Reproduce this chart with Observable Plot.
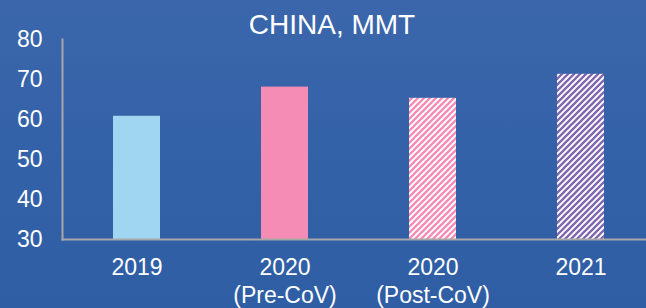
<!DOCTYPE html>
<html>
<head>
<meta charset="utf-8">
<script src="https://cdn.jsdelivr.net/npm/d3@7"></script>
<script src="https://cdn.jsdelivr.net/npm/@observablehq/plot@0.6"></script>
<style>
  html, body { margin: 0; padding: 0; }
  body {
    width: 646px; height: 308px; overflow: hidden; position: relative;
    background: linear-gradient(180deg, #3b66ab 0%, #3462a8 45%, #2f5ea5 100%);
    font-family: "Liberation Sans", Arial, sans-serif;
  }
  #title {
    position: absolute; left: 0; top: 11px; width: 646px; box-sizing: border-box;
    padding-left: 18px; text-align: center; color: #ffffff;
    font-size: 28px; line-height: 28px; font-family: "Liberation Sans", Arial, sans-serif;
  }
  #chart { position: absolute; left: 0; top: 0; }
</style>
</head>
<body>
<div id="chart"></div>
<div id="title">CHINA, MMT</div>
<script>
const categories = ["2019", "2020 (Pre-CoV)", "2020 (Post-CoV)", "2021"];
const values = [60.8, 68.1, 65.3, 71.3];
const tickLabels = ["2019", "2020\n(Pre-CoV)", "2020\n(Post-CoV)", "2021"];
const fills = ["#a0d6f2", "#f48cb5", "url(#stripePink)", "url(#stripePurple)"];
const yTicks = [30, 40, 50, 60, 70, 80];

const data = categories.map((c, i) => ({category: c, value: values[i]}));
const labelOf = new Map(categories.map((c, i) => [c, tickLabels[i]]));

const chart = Plot.plot({
  width: 646,
  height: 308,
  marginLeft: 62,
  marginRight: 0,
  marginTop: 39,
  marginBottom: 69,
  style: {background: "transparent", color: "#ffffff", fontFamily: "'Liberation Sans', Arial, sans-serif", overflow: "visible"},
  x: {type: "band", domain: categories, range: [62.5, 654.5], paddingInner: 0.682, paddingOuter: 0.341, axis: null, label: null},
  y: {domain: [30, 80], axis: null, label: null},
  color: {type: "ordinal", domain: categories, range: fills},
  marks: [
    Plot.barY(data, {x: "category", y1: 30, y2: "value", fill: "category"}),
    Plot.frame({anchor: "left", stroke: "#a8a8a8", strokeWidth: 2}),
    Plot.frame({anchor: "bottom", stroke: "#a8a8a8", strokeWidth: 2}),
    Plot.axisY(yTicks, {tickSize: 0, tickPadding: 20, fontSize: 23, fill: "#ffffff", label: null}),
    Plot.axisX(categories, {tickSize: 0, tickPadding: 16, fontSize: 23, lineHeight: 1.2, fill: "#ffffff", label: null,
      tickFormat: (d) => labelOf.get(d)})
  ]
});

// stripe patterns (wide upward diagonal)
const svg = d3.select(chart);
const defs = svg.insert("defs", ":first-child");
function stripe(id, color) {
  const p = defs.append("pattern")
    .attr("id", id).attr("patternUnits", "userSpaceOnUse")
    .attr("width", 6).attr("height", 6);
  p.append("rect").attr("width", 6).attr("height", 6).attr("fill", "#ffffff");
  p.append("path").attr("d", "M0,6 L6,0 M-1,1 L1,-1 M5,7 L7,5")
    .attr("stroke", color).attr("stroke-width", 2.3).attr("stroke-linecap", "square");
}
stripe("stripePink", "#f48cb5");
stripe("stripePurple", "#8066ad");

document.getElementById("chart").appendChild(chart);
</script>
</body>
</html>
